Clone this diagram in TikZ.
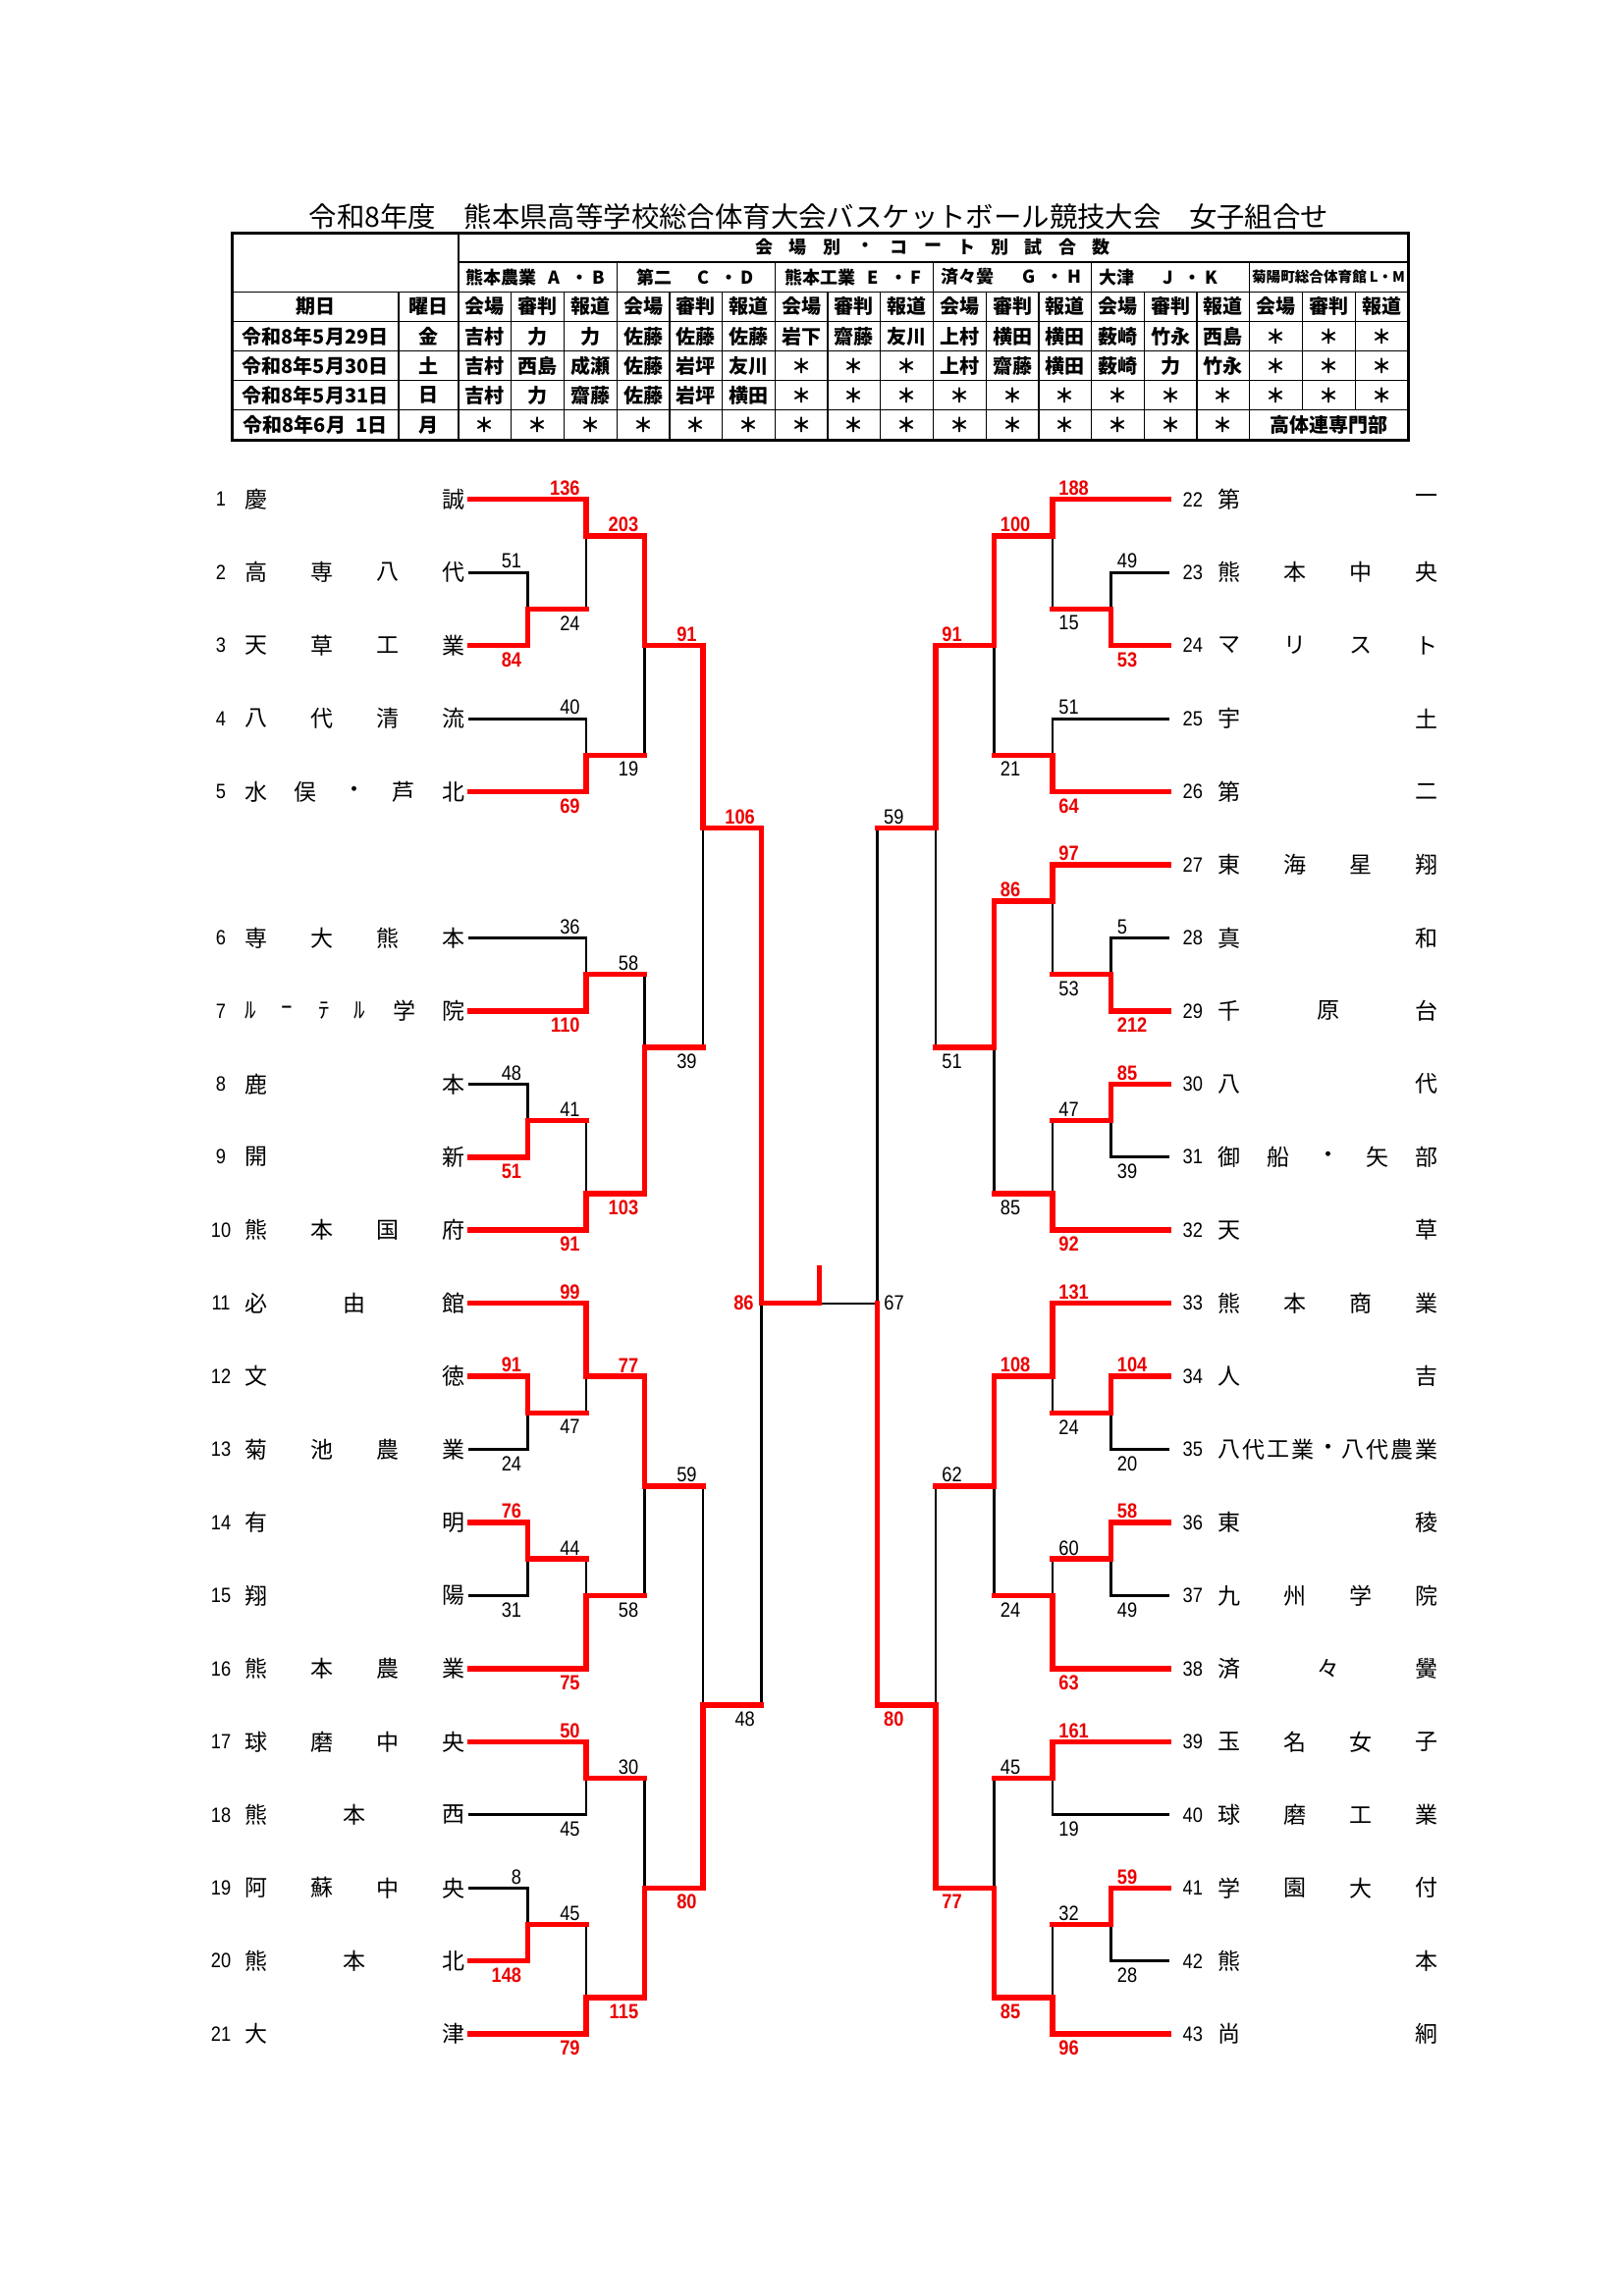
\documentclass[tikz,border=0pt]{standalone}
\usepackage{fontspec}
\newfontfamily\jp{Noto Sans CJK JP}
\newfontfamily\nm[FakeStretch=0.87]{Liberation Sans}
\long\def\gobblethree#1#2#3{}
\tikzset{
  declare function={sy(\t)=508.7+74.45*\t;},
  redline/.style={draw={rgb,255:red,255;green,0;blue,0}, line width=2.75pt, line cap=rect},
  blackline/.style={draw=black, line width=1.45pt, line cap=rect},
  thinblack/.style={draw=black, line width=1pt},
  lbR/.style={font={\nm\bfseries\fontsize{10.5pt}{12pt}\selectfont}, text={rgb,255:red,235;green,0;blue,0}, inner sep=0pt},
  lbK/.style={font={\nm\fontsize{10.5pt}{12pt}\selectfont}, text=black, inner sep=0pt},
  La/.style={anchor=south east, xshift=-3pt, yshift=1.8pt},
  Lb/.style={anchor=north east, xshift=-3pt, yshift=-3.3pt},
  Ra/.style={anchor=south west, xshift=3pt, yshift=1.8pt},
  Rb/.style={anchor=north west, xshift=3pt, yshift=-3.3pt},
  LaR/.style={lbR,La}, LaK/.style={lbK,La}, LbR/.style={lbR,Lb}, LbK/.style={lbK,Lb},
  RaR/.style={lbR,Ra}, RaK/.style={lbK,Ra}, RbR/.style={lbR,Rb}, RbK/.style={lbK,Rb},
  tname/.style={font={\jp\fontsize{11.5pt}{12pt}\selectfont}, inner sep=0pt, anchor=center},
  tnum/.style={font={\nm\fontsize{10.5pt}{12pt}\selectfont}, inner sep=0pt, anchor=center},
  tcell/.style={font={\jp\bfseries\fontsize{10pt}{11pt}\selectfont}, inner sep=0pt, anchor=center},
  tven/.style={font={\jp\bfseries\fontsize{9pt}{10pt}\selectfont}, inner sep=0pt, anchor=center},
  touter/.style={draw=black, line width=1.5pt},
  tinner/.style={draw=black, line width=0.65pt},
}
\newcommand\passone{\tikzset{lnR/.style={draw=none},lnK/.style={blackline}}\let\lab\gobblethree}
\newcommand\passtwo{\tikzset{lnR/.style={redline},lnK/.style={draw=none}}\def\lab##1##2##3{\node[##3] at ##1 {##2};}}
\newcommand\sgL[6]{\draw[#4] (#1,{sy(#3)}) -- (#2,{sy(#3)});\lab{(#2,{sy(#3)})}{#5}{#6}}
\newcommand\sgR[6]{\draw[#4] (#1,{sy(#3)}) -- (#2,{sy(#3)});\lab{(#1,{sy(#3)})}{#5}{#6}}
\newcommand\vt[6]{\draw[#5] (#1,{sy(#2)}) -- (#1,{sy(#3)});\draw[#6] (#1,{sy(#3)}) -- (#1,{sy(#4)});}
\newcommand\tn[4]{\foreach \c [count=\i from 0] in {#4} {\node[tname] at ({#1+\i*201/(#3-1)},{sy(#2)}) {\c};}}
\def\xLz{478.6}\def\xLa{537.5}\def\xLb{597}\def\xLc{656.6}\def\xLd{716}\def\xLe{775.3}
\def\xRz{1190}\def\xRa{1131.5}\def\xRb{1072}\def\xRc{1012.5}\def\xRd{953}\def\xRe{893.7}
\def\xC{834.3}
\newcommand\bracket{%
% left team lines
\sgL{\xLz}{\xLb}{0}{lnR}{136}{LaR}
\sgL{\xLz}{\xLa}{1}{lnK}{51}{LaK}
\sgL{\xLz}{\xLa}{2}{lnR}{84}{LbR}
\sgL{\xLz}{\xLb}{3}{lnK}{40}{LaK}
\sgL{\xLz}{\xLb}{4}{lnR}{69}{LbR}
\sgL{\xLz}{\xLb}{6}{lnK}{36}{LaK}
\sgL{\xLz}{\xLb}{7}{lnR}{110}{LbR}
\sgL{\xLz}{\xLa}{8}{lnK}{48}{LaK}
\sgL{\xLz}{\xLa}{9}{lnR}{51}{LbR}
\sgL{\xLz}{\xLb}{10}{lnR}{91}{LbR}
\sgL{\xLz}{\xLb}{11}{lnR}{99}{LaR}
\sgL{\xLz}{\xLa}{12}{lnR}{91}{LaR}
\sgL{\xLz}{\xLa}{13}{lnK}{24}{LbK}
\sgL{\xLz}{\xLa}{14}{lnR}{76}{LaR}
\sgL{\xLz}{\xLa}{15}{lnK}{31}{LbK}
\sgL{\xLz}{\xLb}{16}{lnR}{75}{LbR}
\sgL{\xLz}{\xLb}{17}{lnR}{50}{LaR}
\sgL{\xLz}{\xLb}{18}{lnK}{45}{LbK}
\sgL{\xLz}{\xLa}{19}{lnK}{8}{LaK}
\sgL{\xLz}{\xLa}{20}{lnR}{148}{LbR}
\sgL{\xLz}{\xLb}{21}{lnR}{79}{LbR}
% left matches
\vt{\xLa}{1}{1.5}{2}{lnK}{lnR} \sgL{\xLa}{\xLb}{1.5}{lnR}{24}{LbK}
\vt{\xLb}{0}{0.5}{1.5}{lnR}{lnK} \sgL{\xLb}{\xLc}{0.5}{lnR}{203}{LaR}
\vt{\xLb}{3}{3.5}{4}{lnK}{lnR} \sgL{\xLb}{\xLc}{3.5}{lnR}{19}{LbK}
\vt{\xLc}{0.5}{2}{3.5}{lnR}{lnK} \sgL{\xLc}{\xLd}{2}{lnR}{91}{LaR}
\vt{\xLb}{6}{6.5}{7}{lnK}{lnR} \sgL{\xLb}{\xLc}{6.5}{lnR}{58}{LaK}
\vt{\xLa}{8}{8.5}{9}{lnK}{lnR} \sgL{\xLa}{\xLb}{8.5}{lnR}{41}{LaK}
\vt{\xLb}{8.5}{9.5}{10}{lnK}{lnR} \sgL{\xLb}{\xLc}{9.5}{lnR}{103}{LbR}
\vt{\xLc}{6.5}{7.5}{9.5}{lnK}{lnR} \sgL{\xLc}{\xLd}{7.5}{lnR}{39}{LbK}
\vt{\xLd}{2}{4.5}{7.5}{lnR}{lnK} \sgL{\xLd}{\xLe}{4.5}{lnR}{106}{LaR}
\vt{\xLa}{12}{12.5}{13}{lnR}{lnK} \sgL{\xLa}{\xLb}{12.5}{lnR}{47}{LbK}
\vt{\xLb}{11}{12}{12.5}{lnR}{lnK} \sgL{\xLb}{\xLc}{12}{lnR}{77}{LaR}
\vt{\xLa}{14}{14.5}{15}{lnR}{lnK} \sgL{\xLa}{\xLb}{14.5}{lnR}{44}{LaK}
\vt{\xLb}{14.5}{15}{16}{lnK}{lnR} \sgL{\xLb}{\xLc}{15}{lnR}{58}{LbK}
\vt{\xLc}{12}{13.5}{15}{lnR}{lnK} \sgL{\xLc}{\xLd}{13.5}{lnR}{59}{LaK}
\vt{\xLb}{17}{17.5}{18}{lnR}{lnK} \sgL{\xLb}{\xLc}{17.5}{lnR}{30}{LaK}
\vt{\xLa}{19}{19.5}{20}{lnK}{lnR} \sgL{\xLa}{\xLb}{19.5}{lnR}{45}{LaK}
\vt{\xLb}{19.5}{20.5}{21}{lnK}{lnR} \sgL{\xLb}{\xLc}{20.5}{lnR}{115}{LbR}
\vt{\xLc}{17.5}{19}{20.5}{lnK}{lnR} \sgL{\xLc}{\xLd}{19}{lnR}{80}{LbR}
\vt{\xLd}{13.5}{16.5}{19}{lnK}{lnR} \sgL{\xLd}{\xLe}{16.5}{lnR}{48}{LbK}
\vt{\xLe}{4.5}{11}{16.5}{lnR}{lnK}
% right team lines
\sgR{\xRb}{\xRz}{0}{lnR}{188}{RaR}
\sgR{\xRa}{\xRz}{1}{lnK}{49}{RaK}
\sgR{\xRa}{\xRz}{2}{lnR}{53}{RbR}
\sgR{\xRb}{\xRz}{3}{lnK}{51}{RaK}
\sgR{\xRb}{\xRz}{4}{lnR}{64}{RbR}
\sgR{\xRb}{\xRz}{5}{lnR}{97}{RaR}
\sgR{\xRa}{\xRz}{6}{lnK}{5}{RaK}
\sgR{\xRa}{\xRz}{7}{lnR}{212}{RbR}
\sgR{\xRa}{\xRz}{8}{lnR}{85}{RaR}
\sgR{\xRa}{\xRz}{9}{lnK}{39}{RbK}
\sgR{\xRb}{\xRz}{10}{lnR}{92}{RbR}
\sgR{\xRb}{\xRz}{11}{lnR}{131}{RaR}
\sgR{\xRa}{\xRz}{12}{lnR}{104}{RaR}
\sgR{\xRa}{\xRz}{13}{lnK}{20}{RbK}
\sgR{\xRa}{\xRz}{14}{lnR}{58}{RaR}
\sgR{\xRa}{\xRz}{15}{lnK}{49}{RbK}
\sgR{\xRb}{\xRz}{16}{lnR}{63}{RbR}
\sgR{\xRb}{\xRz}{17}{lnR}{161}{RaR}
\sgR{\xRb}{\xRz}{18}{lnK}{19}{RbK}
\sgR{\xRa}{\xRz}{19}{lnR}{59}{RaR}
\sgR{\xRa}{\xRz}{20}{lnK}{28}{RbK}
\sgR{\xRb}{\xRz}{21}{lnR}{96}{RbR}
% right matches
\vt{\xRa}{1}{1.5}{2}{lnK}{lnR} \sgR{\xRb}{\xRa}{1.5}{lnR}{15}{RbK}
\vt{\xRb}{0}{0.5}{1.5}{lnR}{lnK} \sgR{\xRc}{\xRb}{0.5}{lnR}{100}{RaR}
\vt{\xRb}{3}{3.5}{4}{lnK}{lnR} \sgR{\xRc}{\xRb}{3.5}{lnR}{21}{RbK}
\vt{\xRc}{0.5}{2}{3.5}{lnR}{lnK} \sgR{\xRd}{\xRc}{2}{lnR}{91}{RaR}
\vt{\xRa}{6}{6.5}{7}{lnK}{lnR} \sgR{\xRb}{\xRa}{6.5}{lnR}{53}{RbK}
\vt{\xRb}{5}{5.5}{6.5}{lnR}{lnK} \sgR{\xRc}{\xRb}{5.5}{lnR}{86}{RaR}
\vt{\xRa}{8}{8.5}{9}{lnR}{lnK} \sgR{\xRb}{\xRa}{8.5}{lnR}{47}{RaK}
\vt{\xRb}{8.5}{9.5}{10}{lnK}{lnR} \sgR{\xRc}{\xRb}{9.5}{lnR}{85}{RbK}
\vt{\xRc}{5.5}{7.5}{9.5}{lnR}{lnK} \sgR{\xRd}{\xRc}{7.5}{lnR}{51}{RbK}
\vt{\xRd}{2}{4.5}{7.5}{lnR}{lnK} \sgR{\xRe}{\xRd}{4.5}{lnR}{59}{RaK}
\vt{\xRa}{12}{12.5}{13}{lnR}{lnK} \sgR{\xRb}{\xRa}{12.5}{lnR}{24}{RbK}
\vt{\xRb}{11}{12}{12.5}{lnR}{lnK} \sgR{\xRc}{\xRb}{12}{lnR}{108}{RaR}
\vt{\xRa}{14}{14.5}{15}{lnR}{lnK} \sgR{\xRb}{\xRa}{14.5}{lnR}{60}{RaK}
\vt{\xRb}{14.5}{15}{16}{lnK}{lnR} \sgR{\xRc}{\xRb}{15}{lnR}{24}{RbK}
\vt{\xRc}{12}{13.5}{15}{lnR}{lnK} \sgR{\xRd}{\xRc}{13.5}{lnR}{62}{RaK}
\vt{\xRb}{17}{17.5}{18}{lnR}{lnK} \sgR{\xRc}{\xRb}{17.5}{lnR}{45}{RaK}
\vt{\xRa}{19}{19.5}{20}{lnR}{lnK} \sgR{\xRb}{\xRa}{19.5}{lnR}{32}{RaK}
\vt{\xRb}{19.5}{20.5}{21}{lnK}{lnR} \sgR{\xRc}{\xRb}{20.5}{lnR}{85}{RbR}
\vt{\xRc}{17.5}{19}{20.5}{lnK}{lnR} \sgR{\xRd}{\xRc}{19}{lnR}{77}{RbR}
\vt{\xRd}{13.5}{16.5}{19}{lnK}{lnR} \sgR{\xRe}{\xRd}{16.5}{lnR}{80}{RbR}
\vt{\xRe}{4.5}{11}{16.5}{lnK}{lnR}
}
\begin{document}
\begin{tikzpicture}[x=0.5pt,y=-0.5pt]
\fill[white] (0,0) rectangle (1653,2339);
\useasboundingbox (0,0) rectangle (1653,2339);
% title
\node[font={\jp\fontsize{14.2pt}{16pt}\selectfont}, inner sep=0pt] (title) at (834,221) {令和8年度　熊本県高等学校総合体育大会バスケットボール競技大会　女子組合せ};
% ---------- table ----------
\def\cw{53.72}
\draw[tinner] (467,267.1) -- (1434,267.1);
\foreach \r in {2,...,6} {\draw[tinner] (236,{237+30.14*\r}) -- (1434,{237+30.14*\r});}
\draw[tinner] (406,297.3) -- (406,448);
\draw[tinner] (467,237) -- (467,448);
\foreach \k in {3,6,9,12,15} {\draw[tinner] ({467+\cw*\k},267.1) -- ({467+\cw*\k},448);}
\foreach \k in {1,2,4,5,7,8,10,11,13,14} {\draw[tinner] ({467+\cw*\k},297.3) -- ({467+\cw*\k},448);}
\foreach \k in {16,17} {\draw[tinner] ({467+\cw*\k},297.3) -- ({467+\cw*\k},417.8);}
\draw[touter] (236,237) rectangle (1434,448);
% header row 1
\foreach \c [count=\i from 0] in {会,場,別,・,コ,ー,ト,別,試,合,数}
  {\node[tven] at ({950+(\i-5)*34.3},252) {\c};}
% venue row
\node[tven] (v1) at (545,282.2) {熊本農業\hspace{0.7em}A\hspace{0.6em}・\hspace{0.2em}B};
\node[tven] (v2) at (708,282.2) {第二\hspace{1.45em}C\hspace{0.6em}・\hspace{0.2em}D};
\node[tven] (v3) at (869,282.2) {熊本工業\hspace{0.7em}E\hspace{0.6em}・\hspace{0.2em}F};
\node[tven] (v4) at (1030,282.2) {済々黌\hspace{1.6em}G\hspace{0.6em}・\hspace{0.2em}H};
\node[tven, anchor=west] (v5) at (1119,282.2) {大津\hspace{1.6em}J\hspace{0.6em}・\hspace{0.2em}K};
\node[tven, font={\jp\bfseries\fontsize{7.3pt}{8pt}\selectfont}] (v6) at (1353,282.2) {菊陽町総合体育館\hspace{0.2em}L・M};
% row 3
\node[tcell] at (321,312.4) {期日};
\node[tcell] at (436.5,312.4) {曜日};
\foreach \g in {0,...,5} {
  \node[tcell] at ({467+\cw*(3*\g+0.5)},312.4) {会場};
  \node[tcell] at ({467+\cw*(3*\g+1.5)},312.4) {審判};
  \node[tcell] at ({467+\cw*(3*\g+2.5)},312.4) {報道};
}
% dates
\node[tcell] at (321,342.5) {令和8年5月29日};
\node[tcell] at (321,372.7) {令和8年5月30日};
\node[tcell] at (321,402.8) {令和8年5月31日};
\node[tcell] at (321,433) {令和8年6月\hspace{0.5em}1日};
\node[tcell] at (436.5,342.5) {金};
\node[tcell] at (436.5,372.7) {土};
\node[tcell] at (436.5,402.8) {日};
\node[tcell] at (436.5,433) {月};
\foreach \c [count=\i from 0] in {吉村,力,力,佐藤,佐藤,佐藤,岩下,齋藤,友川,上村,横田,横田,薮崎,竹永,西島,＊,＊,＊}
  {\node[tcell] at ({467+\cw*(\i+0.5)},342.5) {\c};}
\foreach \c [count=\i from 0] in {吉村,西島,成瀬,佐藤,岩坪,友川,＊,＊,＊,上村,齋藤,横田,薮崎,力,竹永,＊,＊,＊}
  {\node[tcell] at ({467+\cw*(\i+0.5)},372.7) {\c};}
\foreach \c [count=\i from 0] in {吉村,力,齋藤,佐藤,岩坪,横田,＊,＊,＊,＊,＊,＊,＊,＊,＊,＊,＊,＊}
  {\node[tcell] at ({467+\cw*(\i+0.5)},402.8) {\c};}
\foreach \i in {0,...,14}
  {\node[tcell] at ({467+\cw*(\i+0.5)},433) {＊};}
\node[tcell] (hq) at (1353.5,433) {高体連専門部};
% ---------- bracket ----------
\passone
\bracket
\draw[thinblack] (\xC,{sy(11)}) -- (\xRe,{sy(11)});
\passtwo
\bracket
\coordinate (cL) at (\xLe,{sy(11)});
\coordinate (cM) at (\xC,{sy(11)});
\coordinate (cT) at (\xC,{sy(11)-36});
\draw[redline] (cL) -- (cM) -- (cT);
\node[lbR, anchor=east] (fL) at (768,{sy(11)}) {86};
\node[lbK, anchor=west] (fR) at (900,{sy(11)}) {67};
% team numbers
\foreach \n/\s in {1/0,2/1,3/2,4/3,5/4,6/6,7/7,8/8,9/9,10/10,11/11,12/12,13/13,14/14,15/15,16/16,17/17,18/18,19/19,20/20,21/21}
  {\node[tnum] at (225,{sy(\s)}) {\n};}
\foreach \n in {22,...,43}
  {\node[tnum] at (1214.8,{sy(\n-22)}) {\n};}
% left names
\tn{260.5}{0}{2}{慶,誠}
\tn{260.5}{1}{4}{高,専,八,代}
\tn{260.5}{2}{4}{天,草,工,業}
\tn{260.5}{3}{4}{八,代,清,流}
\tn{260.5}{4}{5}{水,俣,・,芦,北}
\tn{260.5}{6}{4}{専,大,熊,本}
\foreach \c/\x in {ﾙ/255.5,ｰ/292,ﾃ/330,ﾙ/366.5,学/411.5,院/461.5}
  {\node[tname] at (\x,{sy(7)}) {\c};}
\tn{260.5}{8}{2}{鹿,本}
\tn{260.5}{9}{2}{開,新}
\tn{260.5}{10}{4}{熊,本,国,府}
\tn{260.5}{11}{3}{必,由,館}
\tn{260.5}{12}{2}{文,徳}
\tn{260.5}{13}{4}{菊,池,農,業}
\tn{260.5}{14}{2}{有,明}
\tn{260.5}{15}{2}{翔,陽}
\tn{260.5}{16}{4}{熊,本,農,業}
\tn{260.5}{17}{4}{球,磨,中,央}
\tn{260.5}{18}{3}{熊,本,西}
\tn{260.5}{19}{4}{阿,蘇,中,央}
\tn{260.5}{20}{3}{熊,本,北}
\tn{260.5}{21}{2}{大,津}
% right names
\tn{1252}{0}{2}{第,一}
\tn{1252}{1}{4}{熊,本,中,央}
\tn{1252}{2}{4}{マ,リ,ス,ト}
\tn{1252}{3}{2}{宇,土}
\tn{1252}{4}{2}{第,二}
\tn{1252}{5}{4}{東,海,星,翔}
\tn{1252}{6}{2}{真,和}
\tn{1252}{7}{3}{千,原,台}
\tn{1252}{8}{2}{八,代}
\tn{1252}{9}{5}{御,船,・,矢,部}
\tn{1252}{10}{2}{天,草}
\tn{1252}{11}{4}{熊,本,商,業}
\tn{1252}{12}{2}{人,吉}
\tn{1252}{13}{9}{八,代,工,業,・,八,代,農,業}
\tn{1252}{14}{2}{東,稜}
\tn{1252}{15}{4}{九,州,学,院}
\tn{1252}{16}{3}{済,々,黌}
\tn{1252}{17}{4}{玉,名,女,子}
\tn{1252}{18}{4}{球,磨,工,業}
\tn{1252}{19}{4}{学,園,大,付}
\tn{1252}{20}{2}{熊,本}
\tn{1252}{21}{2}{尚,絅}
\end{tikzpicture}
\end{document}
